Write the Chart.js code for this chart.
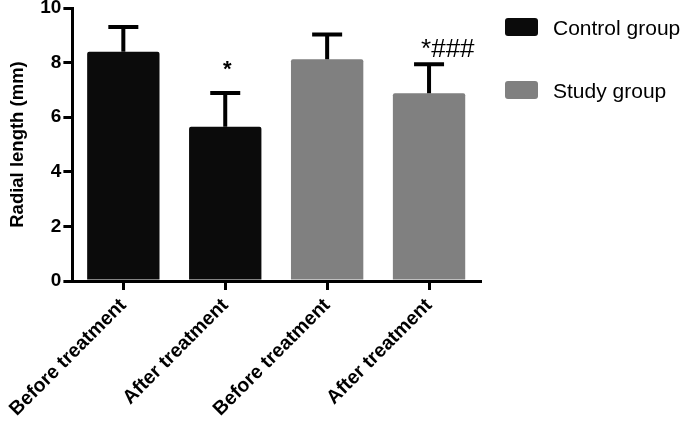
<!DOCTYPE html>
<html>
<head>
<meta charset="utf-8">
<script src="https://cdn.jsdelivr.net/npm/chart.js@4.4.1/dist/chart.umd.min.js"></script>
<style>
  html, body { margin: 0; padding: 0; background: #fff; }
</style>
</head>
<body>
<canvas id="chart" width="681" height="421"></canvas>
<script>
const categories = ["Before treatment", "After treatment", "Before treatment", "After treatment"]
const means = [8.4, 5.65, 8.12, 6.88]
const sds = [0.98, 1.31, 0.98, 1.13]
const groups = ["Control group", "Control group", "Study group", "Study group"]
const marks = ["", "*", "", "*###"]
const yTicks = [0, 2, 4, 6, 8, 10]
const legendNames = ["Control group", "Study group"]

const colors = { "Control group": "#0b0b0b", "Study group": "#808080" }
const FONT = "'Liberation Sans', Arial, Helvetica, sans-serif"

// error bars (upper only) + significance marks
const errorBars = {
  id: "errorBars",
  afterDatasetsDraw(chart) {
    const { ctx, scales: { y } } = chart
    const meta = chart.getDatasetMeta(0)
    ctx.save()
    ctx.strokeStyle = "#000"
    ctx.lineWidth = 4
    meta.data.forEach((bar, i) => {
      const top = y.getPixelForValue(means[i] + sds[i])
      const base = y.getPixelForValue(means[i])
      ctx.beginPath()
      ctx.moveTo(bar.x, base)
      ctx.lineTo(bar.x, top + 2)
      ctx.moveTo(bar.x - 15, top + 2)
      ctx.lineTo(bar.x + 15, top + 2)
      ctx.stroke()
      if (marks[i]) {
        ctx.fillStyle = "#000"
        ctx.textBaseline = "alphabetic"
        if (marks[i] === "*") {
          ctx.font = "bold 22px " + FONT
          ctx.textAlign = "center"
          ctx.fillText(marks[i], bar.x + 2, top - 15)
        } else {
          ctx.font = "26px " + FONT
          ctx.textAlign = "left"
          ctx.fillText(marks[i], bar.x - 8, top - 5)
        }
      }
    })
    ctx.restore()
  },
}

// legend at the right of the plot
const sideLegend = {
  id: "sideLegend",
  afterDraw(chart) {
    const { ctx, chartArea } = chart
    ctx.save()
    legendNames.forEach((name, i) => {
      const x = chartArea.right + 25
      const y = 18 + i * 63
      ctx.fillStyle = colors[name]
      ctx.beginPath()
      ctx.roundRect(x, y, 33, 18, 3)
      ctx.fill()
      ctx.fillStyle = "#000"
      ctx.font = "21px " + FONT
      ctx.textAlign = "left"
      ctx.textBaseline = "middle"
      ctx.fillText(name, x + 48, y + 11)
    })
    ctx.restore()
  },
}

const data = {
  labels: categories,
  datasets: [
    {
      label: "Radial length",
      data: means,
      backgroundColor: groups.map((g) => colors[g]),
      borderRadius: 2,
      borderSkipped: "bottom",
      barPercentage: 0.71,
      categoryPercentage: 1,
    },
  ],
}

const config = {
  type: "bar",
  data,
  options: {
    responsive: false,
    animation: false,
    layout: { padding: { top: 8, right: 201, left: 0, bottom: 0 } },
    plugins: { legend: { display: false }, tooltip: { enabled: false } },
    scales: {
      x: {
        border: { display: true, color: "#000", width: 3 },
        grid: { display: true, offset: false, drawOnChartArea: false, drawTicks: true, tickLength: 9, color: "#000", lineWidth: 3 },
        ticks: {
          color: "#000",
          font: { family: FONT, size: 19.5, weight: "bold" },
          maxRotation: 45,
          minRotation: 45,
          padding: 4,
        },
        afterFit: (s) => { s.height = 140 },
      },
      y: {
        min: 0,
        max: 10,
        border: { display: true, color: "#000", width: 3 },
        grid: { display: true, drawOnChartArea: false, drawTicks: true, tickLength: 9, color: "#000", lineWidth: 3 },
        afterBuildTicks: (s) => { s.ticks = yTicks.map((v) => ({ value: v })) },
        ticks: {
          color: "#000",
          font: { family: FONT, size: 19, weight: "bold" },
          padding: 2,
        },
        title: {
          display: true,
          text: "Radial length (mm)",
          color: "#000",
          font: { family: FONT, size: 18.5, weight: "bold" },
          padding: { top: 6, bottom: 0 },
        },
        afterFit: (s) => { s.width = 72; s.paddingTop = 0; s.paddingBottom = 0 },
      },
    },
  },
  plugins: [errorBars, sideLegend],
}

new Chart(document.getElementById("chart"), config)
</script>
</body>
</html>
